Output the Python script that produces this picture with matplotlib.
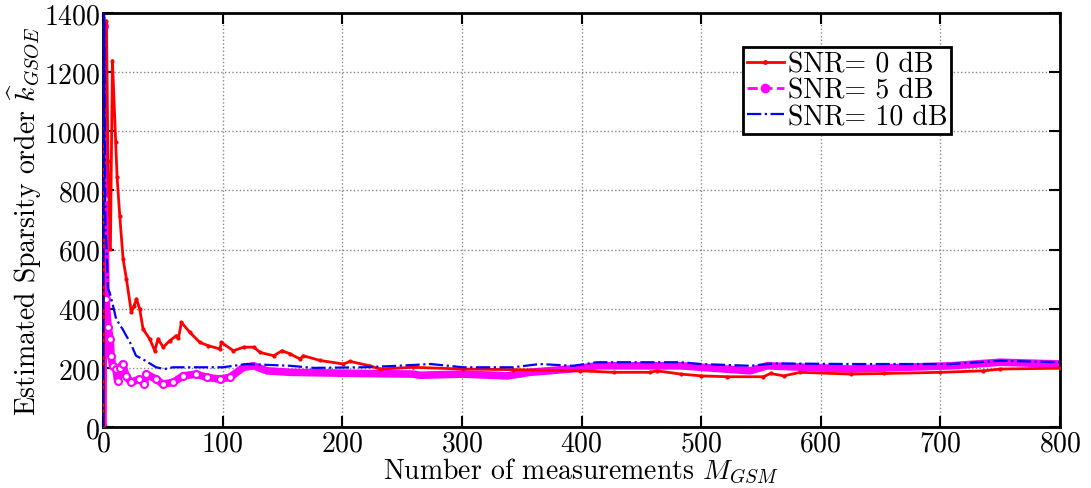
import matplotlib
matplotlib.use("Agg")
import matplotlib.pyplot as plt
from matplotlib.lines import Line2D

plt.rcParams['font.family'] = ['cmr10', 'DejaVu Serif']
plt.rcParams['mathtext.fontset'] = 'cm'
plt.rcParams['axes.formatter.use_mathtext'] = True
plt.rcParams['font.size'] = 20

# SNR = 0 dB
x0 = [0, 1, 2.8, 4.2, 6.2, 7.9, 10.6, 11.8, 14, 16.8, 19.6, 23.7, 26, 28, 30.7, 33.5, 39, 43.3, 46,
      50.3, 55.8, 61.4, 63, 65.6, 72.6, 81, 88, 97.7, 99, 109, 117.5, 126, 131.5, 142.7, 149.7,
      156.7, 164.7, 167.5, 181.5, 201, 206.5, 223, 231.6, 259, 301, 343, 399, 427, 457, 463, 483,
      500, 522, 552, 558, 569, 583, 625, 653, 700, 736, 750, 800]
y0 = [0, 900, 1374, 900, 602, 1239, 964, 844, 715, 568, 500, 388, 410, 433, 399, 331, 298, 258, 298,
      270, 292, 309, 300, 354, 320, 286, 275, 264, 286, 258, 270, 270, 252, 241, 258,
      247, 230, 241, 225, 213, 222, 207, 196, 202, 196, 194, 190, 185, 185, 190, 179,
      173, 170, 170, 181, 173, 185, 179, 181, 185, 190, 196, 199]

# SNR = 5 dB
x5 = [0, 1, 1.5, 2.5, 4.2, 6, 6.7, 8.1, 10.8, 12.2, 14, 16.4, 19.2, 23.4, 30.4, 34.6, 36, 44.4, 50,
      58.6, 67, 78, 86.6, 97.7, 106, 117.5, 126, 137, 156.7, 200, 259, 265, 301, 338, 357, 399,
      413, 458, 483, 541, 555, 625, 709, 750, 800]
y5 = [0, 1357, 771, 433, 338, 298, 241, 207, 196, 157, 200, 213, 173, 151, 162, 145, 179, 162, 145,
      151, 173, 179, 168, 162, 168, 202, 207, 190, 185, 182, 179, 175, 179, 173, 185, 199,
      207, 207, 207, 190, 207, 196, 207, 219, 213]

# SNR = 10 dB
x10 = [0, 1, 2, 3, 4.2, 5.6, 8.4, 11, 16.4, 23.4, 27.6, 33, 44.4, 51.4, 58.6, 100, 120, 156.7, 176,
       218, 246, 274, 301, 343, 365, 393, 413, 483, 500, 541, 561, 625, 709, 750, 800]
y10 = [0, 1400, 700, 602, 467, 455, 410, 365, 331, 280, 241, 230, 202, 196, 202, 202, 213, 207, 200,
       202, 207, 213, 202, 202, 213, 207, 219, 219, 213, 207, 215, 213, 213, 224, 219]

labels = ['SNR= 0 dB', 'SNR= 5 dB', 'SNR= 10 dB']
xticks = [0, 100, 200, 300, 400, 500, 600, 700, 800]
yticks = [0, 200, 400, 600, 800, 1000, 1200, 1400]

fig = plt.figure(figsize=(10.91, 4.89), dpi=100)
ax = fig.add_axes([0.0944, 0.1247, 0.8772, 0.8467])

ax.plot(x0, y0, color='red', lw=2, marker='.', ms=4, zorder=3)
ax.plot(x5, y5, color='magenta', lw=5.5, solid_joinstyle='round', zorder=2)
ax.plot(x5[:25], y5[:25], color='magenta', lw=0, marker='o', ms=5, mfc='white', mew=1.5, zorder=2)
ax.plot(x10, y10, color='blue', lw=1.6, ls='-.', zorder=4)

ax.set_xlim(0, 800)
ax.set_ylim(0, 1400)
ax.set_xticks(xticks)
ax.set_yticks(yticks)
ax.grid(True, color='#888888', ls=':', lw=1)
ax.tick_params(direction='in', top=True, right=True, length=8, width=1.5, pad=2)
for s in ax.spines.values():
    s.set_linewidth(2)

ax.set_xlabel(r'Number of measurements $M_{GSM}$', labelpad=0)
ax.set_ylabel(r'Estimated Sparsity order $\widehat{k}_{GSOE}$', labelpad=0)

handles = [
    Line2D([], [], color='red', lw=2, marker='.', ms=5),
    Line2D([], [], color='magenta', lw=2, ls='--', marker='o', ms=6),
    Line2D([], [], color='blue', lw=1.6, ls='-.'),
]
leg = ax.legend(handles, labels, loc='upper left', bbox_to_anchor=(0.669, 0.918),
                borderaxespad=0, handlelength=1.3, handletextpad=0.15, labelspacing=0.0,
                borderpad=0.15, fancybox=False, framealpha=1, fontsize=20)
leg.get_frame().set_edgecolor('black')
leg.get_frame().set_linewidth(2)

fig.savefig('out.png', dpi=100)
